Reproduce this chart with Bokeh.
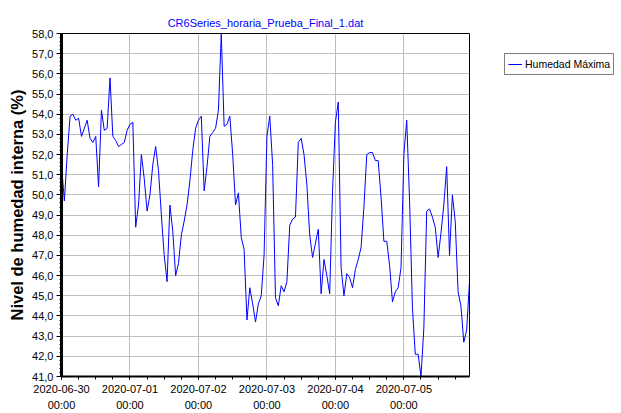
import pandas as pd
from bokeh.plotting import figure
from bokeh.models import (Range1d, FixedTicker, DatetimeTickFormatter, Legend,
                          LegendItem, ColumnDataSource)
from bokeh.embed import file_html
from bokeh.resources import INLINE

title_text = "CR6Series_horaria_Prueba_Final_1.dat"
series_name = "Humedad Máxima"
y_label = "Nivel de humedad interna (%)"
start_time = "2020-06-30 00:00"

# hourly values, 2020-06-30 00:00 .. 2020-07-05 23:00
humedad_maxima = [
    51.5, 49.7, 52.0, 53.9, 54.0, 53.7, 53.8, 52.9, 53.3, 53.7, 52.8, 52.6,
    52.9, 50.4, 54.2, 53.2, 53.3, 55.8, 52.9, 52.7, 52.4, 52.5, 52.6, 53.2,
    53.5, 53.6, 48.4, 49.5, 52.0, 50.8, 49.2, 50.0, 51.5, 52.4, 51.2, 49.0,
    47.0, 45.7, 49.5, 48.2, 46.0, 46.6, 48.0, 48.7, 49.5, 50.7, 52.2, 53.3,
    53.7, 53.9, 50.2, 51.4, 52.9, 53.1, 53.3, 54.2, 58.0, 53.4, 53.5, 53.9,
    52.0, 49.5, 50.1, 47.9, 47.3, 43.8, 45.4, 44.6, 43.7, 44.6, 45.0, 47.0,
    52.9, 53.9, 51.5, 44.9, 44.5, 45.5, 45.2, 45.7, 48.5, 48.8, 48.9, 52.6,
    52.8, 52.0, 50.5, 48.0, 46.9, 47.6, 48.3, 45.1, 46.8, 46.0, 45.1, 50.2,
    53.6, 54.6, 46.4, 45.0, 46.1, 45.9, 45.4, 46.3, 46.8, 47.4, 49.4, 52.0,
    52.1, 52.1, 51.7, 51.7, 49.9, 47.7, 47.7, 46.5, 44.7, 45.2, 45.4, 46.4,
    52.0, 53.7, 49.7, 44.4, 42.1, 42.1, 41.0, 43.4, 49.2, 49.3, 48.9, 48.4,
    46.9, 48.1, 49.5, 51.4, 47.0, 50.0, 48.7, 45.2, 44.5, 42.7, 43.3, 45.7,
]

y_ticks = [41, 42, 43, 44, 45, 46, 47, 48, 49, 50, 51, 52, 53, 54, 55, 56, 57, 58]
y_tick_labels = ["41,0", "42,0", "43,0", "44,0", "45,0", "46,0", "47,0", "48,0",
                 "49,0", "50,0", "51,0", "52,0", "53,0", "54,0", "55,0", "56,0",
                 "57,0", "58,0"]
x_tick_dates = ["2020-06-30", "2020-07-01", "2020-07-02", "2020-07-03",
                "2020-07-04", "2020-07-05"]

times = pd.date_range(start_time, periods=len(humedad_maxima), freq="h")
src = ColumnDataSource(data=dict(t=times, v=humedad_maxima))

EPOCH = pd.Timestamp("1970-01-01")
def to_ms(ts):
    return [float((pd.Timestamp(t) - EPOCH) / pd.Timedelta("1ms")) for t in ts]

FONT = "Liberation Sans"
BLUE = "#0000FF"

p = figure(width=621, height=413, frame_width=408, frame_height=343,
           output_backend="svg", toolbar_location=None,
           x_axis_type="datetime",
           x_range=Range1d(times[0], times[-1]), y_range=Range1d(41, 58),
           min_border_left=61, min_border_right=152, min_border_top=33,
           min_border_bottom=37)

p.background_fill_color = "white"
p.border_fill_color = "white"
p.outline_line_color = "black"
p.outline_line_width = 1
p.outline_line_alpha = 1

# title
p.title.text = title_text
p.title.align = "center"
p.title.text_color = BLUE
p.title.text_font = FONT
p.title.text_font_size = "11px"
p.title.text_font_style = "normal"

r = p.line(x="t", y="v", source=src, line_color=BLUE, line_width=1)

# x axis
minor_x = pd.date_range(times[0], times[-1], freq="6h")
p.xaxis.ticker = FixedTicker(ticks=to_ms(x_tick_dates), minor_ticks=to_ms(minor_x))
fmt = "%Y-%m-%d\n%H:%M"
p.xaxis.formatter = DatetimeTickFormatter(days=fmt, hours=fmt, months=fmt, years=fmt,
                                          hourmin=fmt, minutes=fmt, minsec=fmt,
                                          seconds=fmt, milliseconds=fmt,
                                          microseconds=fmt)
p.xaxis.axis_line_width = 2
p.xaxis.axis_line_color = "black"
p.xaxis.major_tick_out = 3
p.xaxis.major_tick_in = 0
p.xaxis.minor_tick_out = 3
p.xaxis.minor_tick_in = 0
p.xaxis.major_label_standoff = 3
p.xaxis.major_label_text_font = FONT
p.xaxis.major_label_text_font_size = "11px"
p.xaxis.major_label_text_color = "black"
p.xaxis.major_label_text_line_height = 1.4

# y axis
minor_y = [41 + 0.2 * i for i in range(0, 86)]
p.yaxis.ticker = FixedTicker(ticks=y_ticks, minor_ticks=minor_y)
p.yaxis.major_label_overrides = dict(zip(y_ticks, y_tick_labels))
p.yaxis.axis_line_width = 3
p.yaxis.axis_line_color = "black"
p.yaxis.major_tick_out = 5
p.yaxis.major_tick_in = 0
p.yaxis.minor_tick_out = 2
p.yaxis.minor_tick_in = 0
p.yaxis.major_label_standoff = 3
p.yaxis.major_label_text_font = FONT
p.yaxis.major_label_text_font_size = "11px"
p.yaxis.major_label_text_color = "black"
p.yaxis.axis_label = y_label
p.yaxis.axis_label_text_font = FONT
p.yaxis.axis_label_text_font_size = "16.5px"
p.yaxis.axis_label_text_font_style = "bold"
p.yaxis.axis_label_text_color = "black"
p.yaxis.axis_label_standoff = 3

# grid
p.xgrid.grid_line_color = "#BEBEBE"
p.ygrid.grid_line_color = "#BEBEBE"
p.xgrid.grid_line_width = 1
p.ygrid.grid_line_width = 1

# legend in the right-hand panel, offset (35 px right, 22 px down from frame top)
legend = Legend(items=[LegendItem(label=series_name, renderers=[r])],
                location=(35, 301))
legend.border_line_color = "black"
legend.border_line_width = 1
legend.background_fill_color = "white"
legend.background_fill_alpha = 1
legend.label_text_font = FONT
legend.label_text_font_size = "10.5px"
legend.label_text_color = "black"
legend.glyph_width = 14
legend.glyph_height = 14
legend.label_height = 14
legend.label_standoff = 3
legend.padding = 3
legend.margin = 0
legend.spacing = 0
p.add_layout(legend, "right")

open("out.html", "w").write(file_html(p, INLINE))
